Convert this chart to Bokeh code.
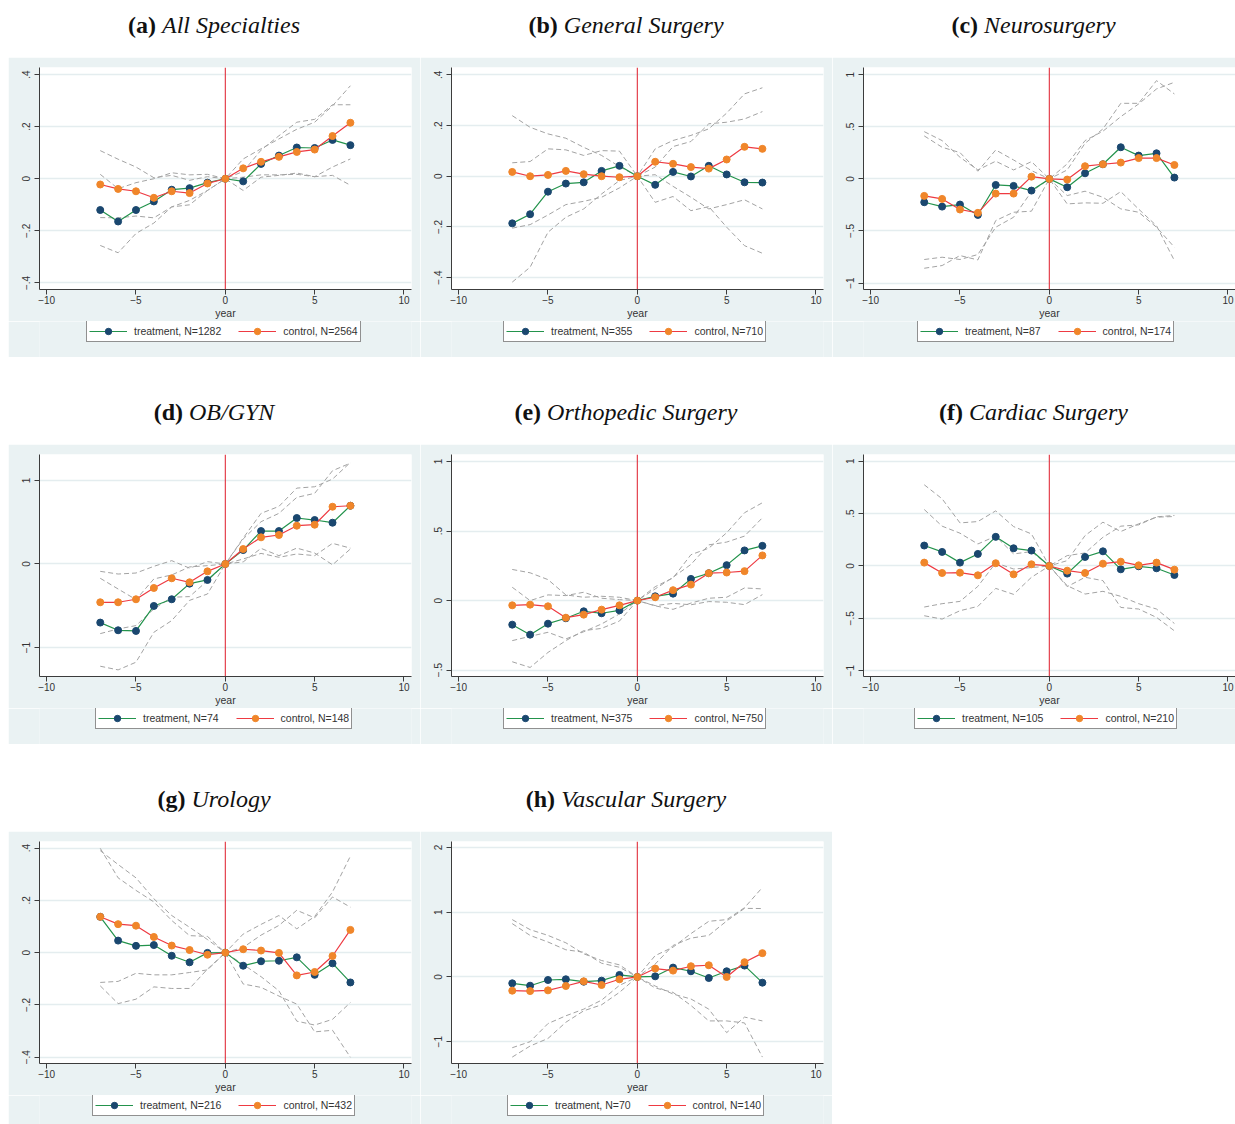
from bokeh.plotting import figure
from bokeh.models import (Div, Span, Legend, LegendItem, FixedTicker, Range1d, Spacer,
                          ColumnDataSource, CDSView, IndexFilter)
from bokeh.layouts import row, column
from bokeh.embed import file_html
from bokeh.resources import INLINE

years = list(range(-7, 8))
x_ticks = [-10, -5, 0, 5, 10]
x_tick_labels = ["\u221210", "\u22125", "0", "5", "10"]

# (a) All Specialties
a_treat = [-0.120, -0.164, -0.120, -0.087, -0.042, -0.036, -0.015, 0, -0.010, 0.057, 0.089, 0.120, 0.118, 0.149, 0.129]
a_ctrl = [-0.022, -0.039, -0.048, -0.073, -0.048, -0.055, -0.018, 0, 0.040, 0.065, 0.084, 0.103, 0.112, 0.164, 0.215]
a_treat_hi = [0.017, -0.038, -0.015, 0.000, 0.023, 0.015, 0.017, 0, 0.028, 0.110, 0.165, 0.217, 0.228, 0.284, 0.284]
a_treat_lo = [-0.256, -0.284, -0.210, -0.170, -0.108, -0.083, -0.045, 0, -0.045, 0.006, 0.013, 0.022, 0.008, 0.013, -0.025]
a_ctrl_hi = [0.108, 0.075, 0.045, 0.004, 0.013, -0.006, 0.008, 0, 0.076, 0.115, 0.153, 0.190, 0.217, 0.280, 0.357]
a_ctrl_lo = [-0.149, -0.150, -0.143, -0.150, -0.108, -0.100, -0.045, 0, 0.006, 0.015, 0.015, 0.017, 0.008, 0.045, 0.076]

# (b) General Surgery
b_treat = [-0.186, -0.150, -0.061, -0.029, -0.024, 0.021, 0.041, 0, -0.034, 0.017, -0.001, 0.041, 0.007, -0.024, -0.025]
b_ctrl = [0.017, 0.000, 0.005, 0.021, 0.008, 0.000, -0.004, 0, 0.057, 0.049, 0.036, 0.030, 0.066, 0.116, 0.108]
b_treat_hi = [0.053, 0.058, 0.108, 0.104, 0.082, 0.101, 0.099, 0, 0.036, 0.117, 0.137, 0.207, 0.213, 0.226, 0.255]
b_treat_lo = [-0.418, -0.359, -0.221, -0.162, -0.129, -0.070, -0.017, 0, -0.103, -0.080, -0.136, -0.120, -0.201, -0.274, -0.304]
b_ctrl_hi = [0.239, 0.193, 0.167, 0.150, 0.114, 0.082, 0.038, 0, 0.108, 0.141, 0.161, 0.187, 0.249, 0.325, 0.349]
b_ctrl_lo = [-0.205, -0.191, -0.153, -0.112, -0.099, -0.083, -0.046, 0, 0.006, -0.040, -0.083, -0.129, -0.112, -0.093, -0.129]

# (c) Neurosurgery
c_treat = [-0.224, -0.266, -0.246, -0.346, -0.058, -0.067, -0.112, 0, -0.080, 0.054, 0.141, 0.304, 0.224, 0.246, 0.013]
c_ctrl = [-0.163, -0.192, -0.294, -0.326, -0.141, -0.141, 0.022, 0, -0.006, 0.122, 0.141, 0.157, 0.200, 0.200, 0.134]
c_treat_hi = [0.413, 0.304, 0.253, 0.074, 0.278, 0.182, 0.080, 0, 0.086, 0.342, 0.480, 0.726, 0.726, 0.944, 0.816]
c_treat_lo = [-0.858, -0.832, -0.736, -0.778, -0.400, -0.320, -0.310, 0, -0.240, -0.230, -0.234, -0.122, -0.290, -0.450, -0.784]
c_ctrl_hi = [0.454, 0.368, 0.208, 0.086, 0.170, 0.086, 0.166, 0, 0.144, 0.368, 0.458, 0.598, 0.720, 0.864, 0.928]
c_ctrl_lo = [-0.774, -0.752, -0.774, -0.726, -0.464, -0.368, -0.122, 0, -0.160, -0.118, -0.176, -0.288, -0.320, -0.464, -0.656]

# (d) OB/GYN
d_treat = [-0.701, -0.793, -0.801, -0.502, -0.422, -0.235, -0.191, 0, 0.167, 0.394, 0.394, 0.550, 0.526, 0.494, 0.697]
d_ctrl = [-0.458, -0.458, -0.422, -0.287, -0.171, -0.219, -0.088, 0, 0.179, 0.319, 0.347, 0.458, 0.470, 0.685, 0.697]
d_treat_hi = [-0.171, -0.299, -0.426, -0.179, -0.131, -0.035, -0.020, 0, 0.310, 0.606, 0.689, 0.908, 0.924, 1.016, 1.215]
d_treat_lo = [-1.223, -1.267, -1.175, -0.817, -0.677, -0.435, -0.359, 0, 0.025, 0.187, 0.100, 0.190, 0.131, -0.010, 0.180]
d_ctrl_hi = [-0.088, -0.120, -0.108, -0.028, 0.040, -0.050, 0.028, 0, 0.300, 0.506, 0.606, 0.797, 0.845, 1.116, 1.207]
d_ctrl_lo = [-0.833, -0.777, -0.737, -0.538, -0.398, -0.390, -0.200, 0, 0.060, 0.127, 0.080, 0.120, 0.100, 0.247, 0.190]

# (e) Orthopedic Surgery
e_treat = [-0.173, -0.245, -0.166, -0.127, -0.077, -0.091, -0.070, 0, 0.031, 0.050, 0.156, 0.197, 0.255, 0.361, 0.394]
e_ctrl = [-0.034, -0.029, -0.041, -0.123, -0.101, -0.065, -0.034, 0, 0.024, 0.075, 0.115, 0.197, 0.202, 0.212, 0.325]
e_treat_hi = [0.096, 0.000, 0.041, 0.036, 0.060, 0.017, 0.007, 0, 0.100, 0.163, 0.330, 0.377, 0.488, 0.632, 0.704]
e_treat_lo = [-0.440, -0.481, -0.373, -0.288, -0.216, -0.200, -0.147, 0, -0.038, -0.063, -0.018, 0.017, 0.024, 0.091, 0.084]
e_ctrl_hi = [0.224, 0.200, 0.151, 0.041, 0.024, 0.031, 0.024, 0, 0.084, 0.168, 0.260, 0.401, 0.421, 0.464, 0.596]
e_ctrl_lo = [-0.288, -0.257, -0.228, -0.276, -0.224, -0.168, -0.096, 0, -0.036, -0.020, -0.030, -0.007, -0.012, -0.029, 0.043]

# (f) Cardiac Surgery
f_treat = [0.195, 0.134, 0.032, 0.115, 0.278, 0.169, 0.147, 0, -0.073, 0.086, 0.140, -0.032, -0.003, -0.022, -0.086]
f_ctrl = [0.032, -0.067, -0.064, -0.089, 0.026, -0.080, 0.016, 0, -0.045, -0.067, 0.022, 0.041, 0.006, 0.032, -0.035]
f_treat_hi = [0.775, 0.641, 0.411, 0.424, 0.526, 0.376, 0.306, 0, 0.051, 0.290, 0.418, 0.329, 0.402, 0.466, 0.472]
f_treat_lo = [-0.392, -0.360, -0.338, -0.195, 0.029, -0.029, -0.016, 0, -0.197, -0.108, -0.140, -0.396, -0.411, -0.491, -0.619]
f_ctrl_hi = [0.539, 0.380, 0.313, 0.210, 0.284, 0.115, 0.137, 0, 0.099, 0.124, 0.274, 0.380, 0.392, 0.469, 0.482]
f_ctrl_lo = [-0.475, -0.507, -0.427, -0.386, -0.214, -0.271, -0.108, 0, -0.188, -0.268, -0.242, -0.290, -0.360, -0.411, -0.549]

# (g) Urology
g_treat = [0.137, 0.046, 0.026, 0.029, -0.012, -0.037, -0.001, 0, -0.050, -0.033, -0.031, -0.018, -0.085, -0.041, -0.114]
g_ctrl = [0.137, 0.109, 0.103, 0.060, 0.027, 0.010, -0.008, 0, 0.013, 0.008, -0.001, -0.087, -0.074, -0.013, 0.087]
g_treat_hi = [0.399, 0.286, 0.238, 0.194, 0.123, 0.065, 0.062, 0, 0.020, 0.067, 0.104, 0.162, 0.133, 0.213, 0.174]
g_treat_lo = [-0.127, -0.195, -0.178, -0.131, -0.137, -0.137, -0.063, 0, -0.120, -0.133, -0.166, -0.197, -0.303, -0.297, -0.400]
g_ctrl_hi = [0.390, 0.337, 0.286, 0.206, 0.142, 0.097, 0.050, 0, 0.071, 0.108, 0.142, 0.091, 0.138, 0.232, 0.369]
g_ctrl_lo = [-0.114, -0.110, -0.079, -0.085, -0.085, -0.076, -0.066, 0, -0.045, -0.092, -0.146, -0.262, -0.277, -0.255, -0.191]

# (h) Vascular Surgery
h_treat = [-0.098, -0.135, -0.047, -0.036, -0.073, -0.057, 0.031, 0, 0.010, 0.145, 0.088, -0.016, 0.088, 0.176, -0.088]
h_ctrl = [-0.212, -0.218, -0.207, -0.140, -0.067, -0.124, -0.036, 0, 0.130, 0.098, 0.166, 0.181, 0.000, 0.228, 0.368]
h_treat_hi = [0.886, 0.731, 0.642, 0.528, 0.358, 0.254, 0.187, 0, 0.200, 0.487, 0.600, 0.642, 0.865, 1.060, 1.057]
h_treat_lo = [-1.093, -1.000, -0.720, -0.600, -0.497, -0.358, -0.130, 0, -0.170, -0.238, -0.440, -0.679, -0.679, -0.710, -1.238]
h_ctrl_hi = [0.824, 0.642, 0.540, 0.420, 0.383, 0.212, 0.150, 0, 0.330, 0.461, 0.670, 0.860, 0.886, 1.070, 1.383]
h_ctrl_lo = [-1.238, -1.067, -0.950, -0.700, -0.523, -0.430, -0.238, 0, -0.140, -0.264, -0.340, -0.497, -0.860, -0.620, -0.679]

ticks_02 = [-0.4, -0.2, 0, 0.2, 0.4]
labels_02 = ["\u2212.4", "\u2212.2", "0", ".2", ".4"]
ticks_05 = [-1, -0.5, 0, 0.5, 1]
labels_05 = ["\u22121", "\u2212.5", "0", ".5", "1"]

panels = [
    dict(tag="a", name="All Specialties", n_t=1282, n_c=2564,
         t=a_treat, c=a_ctrl, t_hi=a_treat_hi, t_lo=a_treat_lo, c_hi=a_ctrl_hi, c_lo=a_ctrl_lo,
         yticks=ticks_02, ylabels=labels_02, yrange=(-0.425, 0.427)),
    dict(tag="b", name="General Surgery", n_t=355, n_c=710,
         t=b_treat, c=b_ctrl, t_hi=b_treat_hi, t_lo=b_treat_lo, c_hi=b_ctrl_hi, c_lo=b_ctrl_lo,
         yticks=ticks_02, ylabels=labels_02, yrange=(-0.447, 0.429)),
    dict(tag="c", name="Neurosurgery", n_t=87, n_c=174,
         t=c_treat, c=c_ctrl, t_hi=c_treat_hi, t_lo=c_treat_lo, c_hi=c_ctrl_hi, c_lo=c_ctrl_lo,
         yticks=ticks_05, ylabels=labels_05, yrange=(-1.062, 1.07)),
    dict(tag="d", name="OB/GYN", n_t=74, n_c=148,
         t=d_treat, c=d_ctrl, t_hi=d_treat_hi, t_lo=d_treat_lo, c_hi=d_ctrl_hi, c_lo=d_ctrl_lo,
         yticks=[-1, 0, 1], ylabels=["\u22121", "0", "1"], yrange=(-1.346, 1.31)),
    dict(tag="e", name="Orthopedic Surgery", n_t=375, n_c=750,
         t=e_treat, c=e_ctrl, t_hi=e_treat_hi, t_lo=e_treat_lo, c_hi=e_ctrl_hi, c_lo=e_ctrl_lo,
         yticks=[-0.5, 0, 0.5, 1], ylabels=["\u2212.5", "0", ".5", "1"], yrange=(-0.546, 1.051)),
    dict(tag="f", name="Cardiac Surgery", n_t=105, n_c=210,
         t=f_treat, c=f_ctrl, t_hi=f_treat_hi, t_lo=f_treat_lo, c_hi=f_ctrl_hi, c_lo=f_ctrl_lo,
         yticks=ticks_05, ylabels=labels_05, yrange=(-1.055, 1.064)),
    dict(tag="g", name="Urology", n_t=216, n_c=432,
         t=g_treat, c=g_ctrl, t_hi=g_treat_hi, t_lo=g_treat_lo, c_hi=g_ctrl_hi, c_lo=g_ctrl_lo,
         yticks=ticks_02, ylabels=labels_02, yrange=(-0.424, 0.425)),
    dict(tag="h", name="Vascular Surgery", n_t=70, n_c=140,
         t=h_treat, c=h_ctrl, t_hi=h_treat_hi, t_lo=h_treat_lo, c_hi=h_ctrl_hi, c_lo=h_ctrl_lo,
         yticks=[-1, 0, 1, 2], ylabels=["\u22121", "0", "1", "2"], yrange=(-1.337, 2.093)),
]

# left offset of each key box within its strip
key_x = [47, 52, 54, 56, 52, 51, 53, 56]

BG = "#EAF2F3"
GRID = "#E4EDEF"
AXIS = "#3c3c3c"
TEXT = "#333333"
CI = "#a3a3a3"
VLINE = "#e2303c"
T_LINE = "#23934c"
T_MARK = "#1a476f"
C_LINE = "#ee3a42"
C_MARK = "#f0862a"
SANS = "Liberation Sans"


def title_div(tag, name, width):
    html = (
        f'<div style="width:{width}px;text-align:center;'
        f"font-family:'Liberation Serif',serif;font-size:24px;color:#111;"
        f'line-height:24px;padding-top:13px;white-space:nowrap;">'
        f"<b>({tag})</b> <i>{name}</i></div>"
    )
    return Div(text=html, width=width, height=57, margin=0)


def make_fig(pn, width, border_right):
    p = figure(
        width=width, height=264,
        x_range=Range1d(-10.4, 10.42), y_range=Range1d(*pn["yrange"]),
        output_backend="svg", toolbar_location=None,
        min_border_left=31, min_border_right=border_right,
        min_border_top=10, min_border_bottom=32,
        border_fill_color=BG, background_fill_color="white",
        outline_line_color=None,
    )
    p.xgrid.visible = False
    p.ygrid.grid_line_color = GRID
    p.ygrid.grid_line_width = 1.5
    p.ygrid.ticker = FixedTicker(ticks=pn["yticks"])

    p.xaxis.ticker = FixedTicker(ticks=x_ticks)
    p.xaxis.major_label_overrides = dict(zip(x_ticks, x_tick_labels))
    p.yaxis.ticker = FixedTicker(ticks=pn["yticks"])
    p.yaxis.major_label_overrides = dict(zip(pn["yticks"], pn["ylabels"]))
    p.yaxis.major_label_orientation = "vertical"
    p.xaxis.axis_label = "year"

    for ax in (p.xaxis[0], p.yaxis[0]):
        ax.axis_line_color = AXIS
        ax.major_tick_line_color = AXIS
        ax.major_tick_out = 5
        ax.major_tick_in = 0
        ax.minor_tick_line_color = None
        ax.major_label_text_font = SANS
        ax.major_label_text_font_size = "10px"
        ax.major_label_text_color = TEXT
        ax.axis_label_text_font = SANS
        ax.axis_label_text_font_size = "10.5px"
        ax.axis_label_text_font_style = "normal"
        ax.axis_label_text_color = TEXT
    p.xaxis.major_label_standoff = 1
    p.xaxis.axis_label_standoff = 0
    p.yaxis.major_label_standoff = 4

    p.add_layout(Span(location=0, dimension="height", line_color=VLINE,
                      line_width=1.1, level="underlay"))

    for key in ("t_hi", "t_lo", "c_hi", "c_lo"):
        p.line(years, pn[key], line_color=CI, line_dash="5 3", line_width=1)

    p.line(years, pn["t"], line_color=T_LINE, line_width=1.2)
    p.scatter(years, pn["t"], size=7, fill_color=T_MARK, line_color=T_MARK)
    p.line(years, pn["c"], line_color=C_LINE, line_width=1.2)
    p.scatter(years, pn["c"], size=7, fill_color=C_MARK, line_color=C_MARK)
    return p


def key_fig(pn, kx, width, height, bottom_gap):
    # strip under the plot that carries the series key; the series are
    # attached through a one-row view that lies outside the strip's window,
    # so only their key swatches show
    k = figure(
        width=width, height=height,
        x_range=Range1d(0, 1), y_range=Range1d(0, 1),
        x_axis_type=None, y_axis_type=None,
        output_backend="svg", toolbar_location=None,
        min_border_left=0, min_border_right=0, min_border_top=0, min_border_bottom=0,
        border_fill_color=BG, background_fill_color=BG, outline_line_color=None,
    )
    src = ColumnDataSource(dict(year=years, treat=pn["t"], ctrl=pn["c"]))
    first = CDSView(filter=IndexFilter(indices=[0]))
    t_line = k.line("year", "treat", source=src, view=first, line_color=T_LINE, line_width=1.2)
    t_pts = k.scatter("year", "treat", source=src, view=first, fill_color=T_MARK, line_color=T_MARK)
    c_line = k.line("year", "ctrl", source=src, view=first, line_color=C_LINE, line_width=1.2)
    c_pts = k.scatter("year", "ctrl", source=src, view=first, fill_color=C_MARK, line_color=C_MARK)
    legend = Legend(
        items=[
            LegendItem(label=f"treatment, N={pn['n_t']}", renderers=[t_line, t_pts]),
            LegendItem(label=f"control, N={pn['n_c']}", renderers=[c_line, c_pts]),
        ],
        orientation="horizontal", location=(kx, bottom_gap),
        label_text_font=SANS, label_text_font_size="10.5px", label_text_color=TEXT,
        glyph_width=38, glyph_height=16, label_height=14, label_standoff=7,
        spacing=17, padding=2, margin=0,
        border_line_color="#222222", border_line_width=1,
        background_fill_color="white", background_fill_alpha=1.0,
    )
    k.add_layout(legend)
    return k


def panel(i, width, border_right, key_height, bottom_gap):
    pn = panels[i]
    return column(title_div(pn["tag"], pn["name"], width),
                  make_fig(pn, width, border_right),
                  key_fig(pn, key_x[i], width, key_height, bottom_gap),
                  spacing=0)


row1 = row(Spacer(width=8, height=357),
           panel(0, 412, 9, 36, 15),
           panel(1, 412, 9, 36, 15),
           panel(2, 403, 0, 36, 15), spacing=0)
row2 = row(Spacer(width=8, height=357),
           panel(3, 412, 9, 36, 15),
           panel(4, 412, 9, 36, 15),
           panel(5, 403, 0, 36, 15), spacing=0)
row3 = row(Spacer(width=8, height=350),
           panel(6, 412, 9, 29, 8),
           panel(7, 412, 9, 29, 8), spacing=0)

page = column(row1, Spacer(height=30), row2, Spacer(height=30), row3, spacing=0)

open("out.html", "w").write(file_html(page, INLINE, title="Event study by specialty"))
